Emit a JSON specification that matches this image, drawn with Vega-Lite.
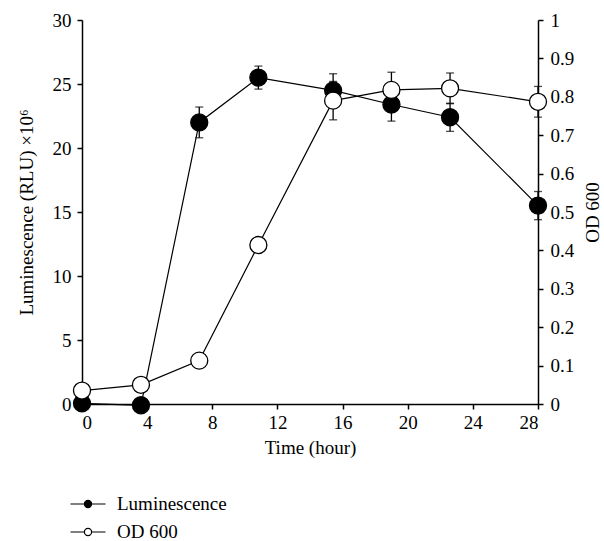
{
  "$schema": "https://vega.github.io/schema/vega-lite/v6.json",
  "width": 456,
  "height": 384,
  "autosize": {"type": "none"},
  "padding": {"left": 82, "top": 20, "right": 66, "bottom": 137},
  "background": "white",
  "config": {
    "view": {"stroke": null},
    "font": "Liberation Serif",
    "axis": {
      "labelFont": "Liberation Serif",
      "titleFont": "Liberation Serif",
      "labelFontSize": 19,
      "titleFontSize": 19,
      "titleFontWeight": "normal",
      "labelColor": "black",
      "titleColor": "black",
      "domainColor": "black",
      "tickColor": "black",
      "domainWidth": 1.5,
      "tickWidth": 1.5,
      "tickSize": 5,
      "grid": false
    },
    "legend": {
      "labelFont": "Liberation Serif",
      "labelFontSize": 19,
      "labelColor": "black"
    }
  },
  "data": {
    "values": [
      {"time": 0, "series": "Luminescence", "value": 0.05, "err": 0},
      {"time": 3.62, "series": "Luminescence", "value": -0.1, "err": 0},
      {"time": 7.2, "series": "Luminescence", "value": 22.0, "err": 1.2},
      {"time": 10.83, "series": "Luminescence", "value": 25.5, "err": 0.9},
      {"time": 15.42, "series": "Luminescence", "value": 24.5, "err": 1.3},
      {"time": 19.0, "series": "Luminescence", "value": 23.4, "err": 1.3},
      {"time": 22.6, "series": "Luminescence", "value": 22.4, "err": 1.1},
      {"time": 28, "series": "Luminescence", "value": 15.5, "err": 1.1},
      {"time": 0, "series": "OD 600", "value": 0.035, "err": 0},
      {"time": 3.62, "series": "OD 600", "value": 0.05, "err": 0},
      {"time": 7.2, "series": "OD 600", "value": 0.113, "err": 0},
      {"time": 10.83, "series": "OD 600", "value": 0.414, "err": 0},
      {"time": 15.42, "series": "OD 600", "value": 0.79, "err": 0.05},
      {"time": 19.0, "series": "OD 600", "value": 0.818, "err": 0.046},
      {"time": 22.6, "series": "OD 600", "value": 0.822, "err": 0.04},
      {"time": 28, "series": "OD 600", "value": 0.787, "err": 0.04}
    ]
  },
  "transform": [
    {"calculate": "datum.value - datum.err", "as": "lo"},
    {"calculate": "datum.value + datum.err", "as": "hi"}
  ],
  "encoding": {
    "x": {
      "field": "time",
      "type": "quantitative",
      "scale": {"domain": [0, 28], "nice": false},
      "axis": {"values": [0, 4, 8, 12, 16, 20, 24, 28], "title": "Time (hour)", "labelPadding": 4, "titlePadding": 6}
    }
  },
  "layer": [
    {
      "transform": [{"filter": "datum.series === 'Luminescence'"}],
      "encoding": {
        "y": {
          "field": "value",
          "type": "quantitative",
          "scale": {"domain": [0, 30], "nice": false, "zero": false},
          "axis": {"values": [0, 5, 10, 15, 20, 25, 30], "title": "Luminescence (RLU) ×10⁶", "orient": "left", "labelPadding": 6, "titlePadding": 16}
        }
      },
      "layer": [
        {"mark": {"type": "line", "color": "black", "strokeWidth": 1.2, "clip": false}},
        {"transform": [{"filter": "datum.err > 0"}], "mark": {"type": "rule", "color": "black", "strokeWidth": 1.3}, "encoding": {"y": {"field": "lo", "type": "quantitative"}, "y2": {"field": "hi"}}},
        {"transform": [{"filter": "datum.err > 0"}], "mark": {"type": "tick", "color": "black", "orient": "horizontal", "size": 8, "thickness": 1.3}, "encoding": {"y": {"field": "lo", "type": "quantitative"}}},
        {"transform": [{"filter": "datum.err > 0"}], "mark": {"type": "tick", "color": "black", "orient": "horizontal", "size": 8, "thickness": 1.3}, "encoding": {"y": {"field": "hi", "type": "quantitative"}}},
        {
          "mark": {"type": "point", "shape": "circle", "filled": true, "size": 290, "stroke": "black", "strokeWidth": 1.3, "opacity": 1, "clip": false},
          "encoding": {
            "fill": {
              "field": "series",
              "type": "nominal",
              "scale": {"domain": ["Luminescence", "OD 600"], "range": ["black", "white"]},
              "legend": {
                "title": null,
                "orient": "none",
                "legendX": -5,
                "legendY": 473,
                "symbolType": "M-1.75,0L-0.36,0M0.36,0L1.75,0M-0.36,0A0.36,0.36,0,1,0,0.36,0A0.36,0.36,0,1,0,-0.36,0Z",
                "symbolSize": 400,
                "symbolStrokeColor": "black",
                "symbolStrokeWidth": 1.2,
                "labelOffset": 18,
                "rowPadding": 7,
                "padding": 0
              }
            }
          }
        }
      ]
    },
    {
      "transform": [{"filter": "datum.series === 'OD 600'"}],
      "encoding": {
        "y": {
          "field": "value",
          "type": "quantitative",
          "scale": {"domain": [0, 1], "nice": false, "zero": false},
          "axis": {"values": [0, 0.1, 0.2, 0.3, 0.4, 0.5, 0.6, 0.7, 0.8, 0.9, 1], "format": "~f", "title": "OD 600", "orient": "right", "labelPadding": 7, "titlePadding": 10, "titleAngle": 270, "titleBaseline": "top"}
        }
      },
      "layer": [
        {"mark": {"type": "line", "color": "black", "strokeWidth": 1.2, "clip": false}},
        {"transform": [{"filter": "datum.err > 0"}], "mark": {"type": "rule", "color": "black", "strokeWidth": 1.3}, "encoding": {"y": {"field": "lo", "type": "quantitative"}, "y2": {"field": "hi"}}},
        {"transform": [{"filter": "datum.err > 0"}], "mark": {"type": "tick", "color": "black", "orient": "horizontal", "size": 8, "thickness": 1.3}, "encoding": {"y": {"field": "lo", "type": "quantitative"}}},
        {"transform": [{"filter": "datum.err > 0"}], "mark": {"type": "tick", "color": "black", "orient": "horizontal", "size": 8, "thickness": 1.3}, "encoding": {"y": {"field": "hi", "type": "quantitative"}}},
        {
          "mark": {"type": "point", "shape": "circle", "filled": true, "size": 290, "stroke": "black", "strokeWidth": 1.3, "opacity": 1, "clip": false},
          "encoding": {
            "fill": {"field": "series", "type": "nominal"}
          }
        }
      ]
    }
  ],
  "resolve": {"scale": {"y": "independent"}}
}
